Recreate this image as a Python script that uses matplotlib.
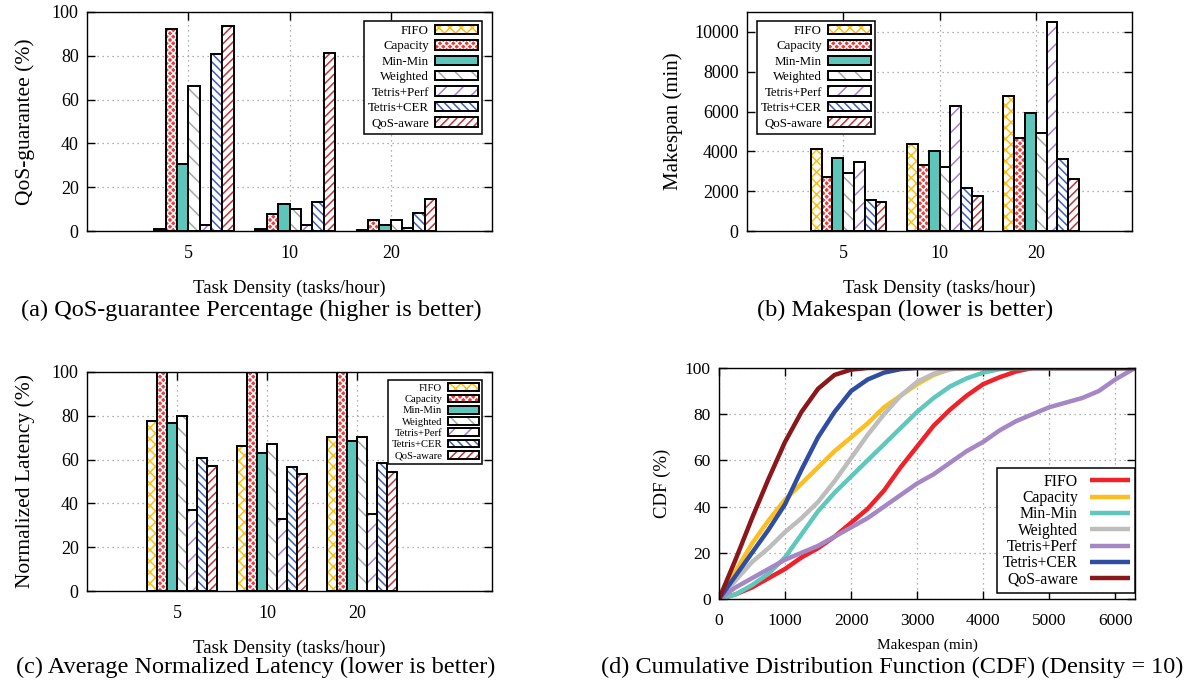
import matplotlib
matplotlib.use('Agg')
import matplotlib.pyplot as plt
from matplotlib.patches import Patch

plt.rcParams['font.family'] = ['Liberation Serif', 'DejaVu Serif']
plt.rcParams['hatch.linewidth'] = 1.1
plt.rcParams['axes.linewidth'] = 1.0

# ---- data ----
densities = ['5', '10', '20']
schedulers = ['FIFO', 'Capacity', 'Min-Min', 'Weighted', 'Tetris+Perf', 'Tetris+CER', 'QoS-aware']

# (a) QoS-guarantee (%), one row per scheduler, columns = densities
qos_guarantee = [
    [1.1, 0.8, 0.5],
    [92.3, 7.8, 5.2],
    [30.8, 12.5, 2.9],
    [66.0, 10.0, 4.8],
    [2.9, 2.9, 1.4],
    [81.0, 13.1, 8.3],
    [93.5, 81.3, 14.5],
]

# (b) Makespan (min)
makespan = [
    [4120, 4370, 6760],
    [2690, 3310, 4690],
    [3680, 4030, 5920],
    [2890, 3230, 4940],
    [3460, 6290, 10490],
    [1550, 2170, 3610],
    [1480, 1750, 2610],
]

# (c) Normalized latency (%), Capacity runs off the top of the axis
norm_latency = [
    [77.6, 66.1, 70.5],
    [120.0, 120.0, 120.0],
    [76.9, 63.2, 68.6],
    [79.9, 67.3, 70.5],
    [36.8, 32.9, 35.2],
    [60.6, 56.6, 58.4],
    [57.2, 53.6, 54.3],
]

# (d) CDF (%) of makespan at density 10
cdf_makespan = [0, 250, 500, 750, 1000, 1250, 1500, 1750, 2000, 2250, 2500, 2750, 3000,
                3250, 3500, 3750, 4000, 4250, 4500, 4750, 5000, 5250, 5500, 5750, 6000, 6300]
cdf_fifo = [0, 2, 5, 9, 13, 18, 22, 27, 33, 39, 47, 57, 66,
            75, 82, 88, 93, 96, 98.5, 100, 100, 100, 100, 100, 100, 100]
cdf_capacity = [0, 12, 24, 34, 43, 50, 57, 64, 70, 76, 83, 88, 93,
                97, 99.5, 100, 100, 100, 100, 100, 100, 100, 100, 100, 100, 100]
cdf_minmin = [0, 2, 6, 11, 18, 28, 38, 46, 53, 60, 67, 74, 81,
              87, 92, 95.5, 98, 99.5, 100, 100, 100, 100, 100, 100, 100, 100]
cdf_weighted = [0, 8, 16, 22, 29, 35, 42, 51, 61, 71, 80, 88, 94,
                97.5, 99.5, 100, 100, 100, 100, 100, 100, 100, 100, 100, 100, 100]
cdf_tetris_perf = [0, 5, 9, 13, 17, 20, 23, 27, 31, 35, 40, 45, 50,
                   54, 59, 64, 68, 73, 77, 80, 83, 85, 87, 90, 95, 100]
cdf_tetris_cer = [0, 10, 20, 30, 41, 56, 70, 81, 90, 95, 98, 99.5, 100,
                  100, 100, 100, 100, 100, 100, 100, 100, 100, 100, 100, 100, 100]
cdf_qos_aware = [0, 17, 35, 52, 68, 81, 91, 97, 99.3, 100, 100, 100, 100,
                 100, 100, 100, 100, 100, 100, 100, 100, 100, 100, 100, 100, 100]

# ---- styles ----
bar_face = ['white', '#f23a3a', '#5ec5bb', 'white', 'white', 'white', 'white']
bar_hatch_color = ['#ffbf10', 'white', '#5ec5bb', '#a8a8a8', '#a77fd6', '#3f5fc4', '#c0353a']
bar_hatch = ['xxx', 'xxxxx', '', '\\\\', '//', '\\\\\\\\', '////']
line_colors = ['#ee2228', '#fdbf20', '#5ec8bd', '#bdbdbd', '#a487c4', '#2f4ea3', '#8a1719']
bar_width = 0.112

W, H = 1185, 683


def box(left, top, right, bottom):
    return [left / W, 1 - bottom / H, (right - left) / W, (bottom - top) / H]


def style_axes(ax, tick_size=13):
    ax.tick_params(direction='in', top=True, right=True, length=6, width=1,
                   labelsize=tick_size)
    ax.tick_params(axis='x', pad=10)
    ax.tick_params(axis='y', pad=6)
    ax.grid(True, color='#999999', linestyle=(0, (1, 3)), linewidth=0.9)
    ax.set_axisbelow(True)


def plot_bars(ax, values, ymax, yticks):
    centers = [1, 2, 3]
    handles = []
    for i, name in enumerate(schedulers):
        pos = [c + (i - 2.5) * bar_width for c in centers]
        ax.bar(pos, values[i], bar_width, color=bar_face[i], edgecolor=bar_hatch_color[i],
               hatch=bar_hatch[i], linewidth=0)
        ax.bar(pos, values[i], bar_width, fill=False, edgecolor='black', linewidth=1.4)
        handles.append((Patch(facecolor=bar_face[i], edgecolor=bar_hatch_color[i],
                              hatch=bar_hatch[i], linewidth=0),
                        Patch(fill=False, edgecolor='black', linewidth=1.4)))
    ax.set_xlim(0, 4)
    ax.set_xticks(centers)
    ax.set_xticklabels(densities)
    ax.set_ylim(0, ymax)
    ax.set_yticks(yticks)
    style_axes(ax)
    ax.set_xlabel('Task Density (tasks/hour)', fontsize=13.5, labelpad=13)
    return handles


def bar_legend(ax, handles, anchor, loc, size, hlen, spacing):
    leg = ax.legend(handles, schedulers, loc=loc, bbox_to_anchor=anchor, borderaxespad=0,
                    fontsize=size, markerfirst=False, fancybox=False, framealpha=1,
                    edgecolor='black', handlelength=hlen, handleheight=0.75,
                    labelspacing=spacing, handletextpad=0.5, borderpad=0.3)
    leg.get_frame().set_linewidth(1.1)


fig = plt.figure(figsize=(W / 100, H / 100), dpi=100)

# (a)
ax_a = fig.add_axes(box(87, 12, 492, 231))
h = plot_bars(ax_a, qos_guarantee, 100, [0, 20, 40, 60, 80, 100])
ax_a.set_ylabel('QoS-guarantee (%)', fontsize=15.5, labelpad=12)
bar_legend(ax_a, h, (0.975, 0.96), 'upper right', 9.3, 3.3, 0.25)

# (b)
ax_b = fig.add_axes(box(747, 12, 1132, 231))
h = plot_bars(ax_b, makespan, 11000, [0, 2000, 4000, 6000, 8000, 10000])
ax_b.set_ylabel('Makespan (min)', fontsize=15, labelpad=8)
bar_legend(ax_b, h, (0.026, 0.96), 'upper left', 9.3, 3.3, 0.25)

# (c)
ax_c = fig.add_axes(box(87, 372, 492, 591))
h = plot_bars(ax_c, norm_latency, 100, [0, 20, 40, 60, 80, 100])
ax_c.set_xlim(0, 4.5)
ax_c.set_ylabel('Normalized Latency (%)', fontsize=15.5, labelpad=12)
bar_legend(ax_c, h, (0.975, 0.963), 'upper right', 7.7, 2.9, 0.15)

# (d)
ax_d = fig.add_axes(box(719, 368, 1135, 599))
cdf_series = [cdf_fifo, cdf_capacity, cdf_minmin, cdf_weighted,
              cdf_tetris_perf, cdf_tetris_cer, cdf_qos_aware]
for name, ys, col in zip(schedulers, cdf_series, line_colors):
    ax_d.plot(cdf_makespan, ys, color=col, linewidth=3.2, label=name,
              solid_joinstyle='round', solid_capstyle='butt')
ax_d.set_xlim(0, 6300)
ax_d.set_ylim(0, 100)
ax_d.set_xticks([0, 1000, 2000, 3000, 4000, 5000, 6000])
ax_d.set_yticks([0, 20, 40, 60, 80, 100])
style_axes(ax_d, tick_size=12.5)
ax_d.set_xlabel('Makespan (min)', fontsize=11, labelpad=7)
ax_d.set_ylabel('CDF (%)', fontsize=13.5, labelpad=10)
leg = ax_d.legend(loc='lower right', bbox_to_anchor=(1, 0.025), borderaxespad=0,
                  fontsize=11.3, markerfirst=False, fancybox=False, framealpha=1,
                  edgecolor='black', handlelength=2.5, labelspacing=0.02,
                  handletextpad=0.8, borderpad=0.35)
leg.get_frame().set_linewidth(1.1)

# captions
fig.text(251 / W, 1 - 310 / H, '(a) QoS-guarantee Percentage (higher is better)',
         ha='center', va='center', fontsize=17.5)
fig.text(905 / W, 1 - 310 / H, '(b) Makespan (lower is better)',
         ha='center', va='center', fontsize=17.5)
fig.text(256 / W, 1 - 667 / H, '(c) Average Normalized Latency (lower is better)',
         ha='center', va='center', fontsize=17.5)
fig.text(892 / W, 1 - 667 / H, '(d) Cumulative Distribution Function (CDF) (Density = 10)',
         ha='center', va='center', fontsize=17.5)

fig.savefig('out.png', dpi=100)
